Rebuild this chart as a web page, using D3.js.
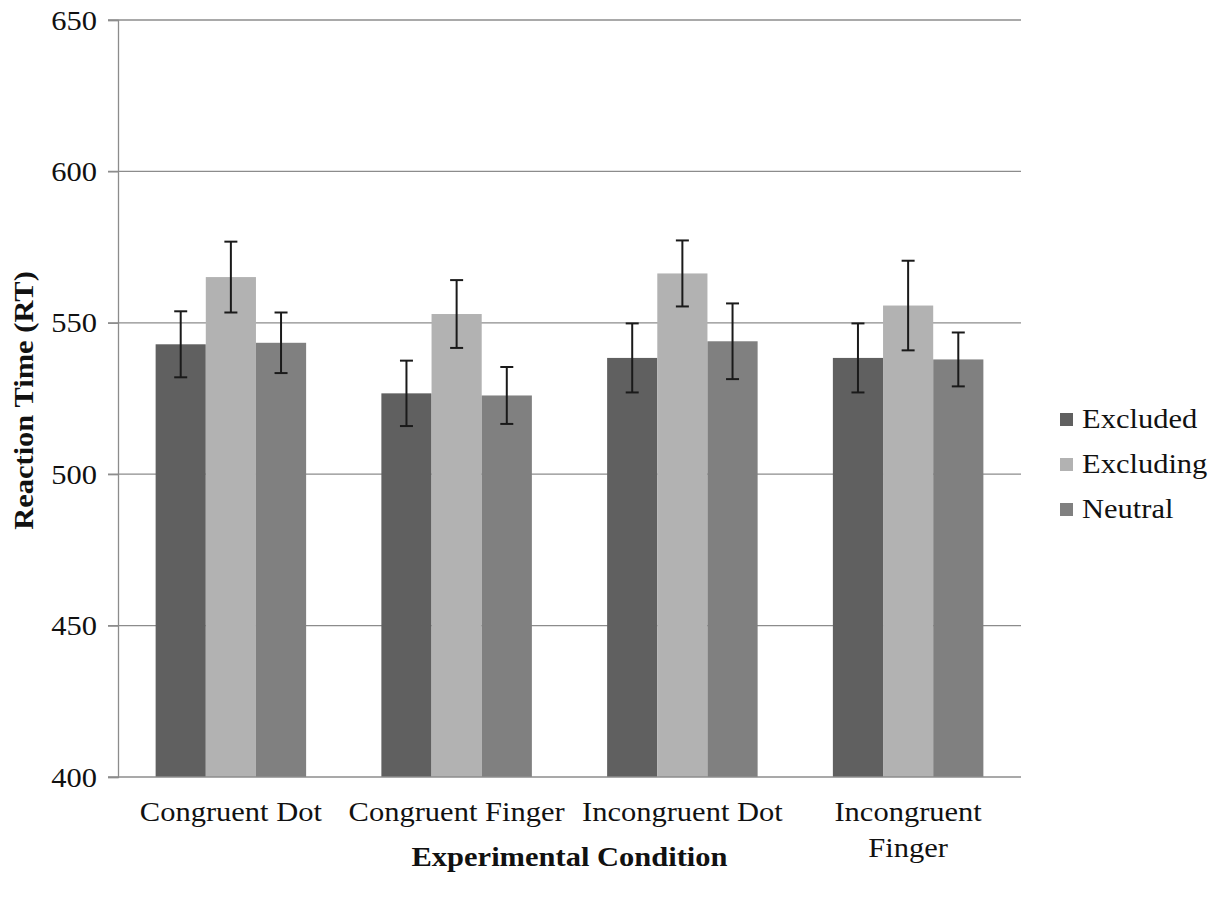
<!DOCTYPE html>
<html>
<head>
<meta charset="utf-8">
<script src="https://cdn.jsdelivr.net/npm/d3@7"></script>
<style>
  html, body { margin: 0; padding: 0; background: #fff; }
  svg { display: block; }
  text { font-family: "Liberation Serif", "Times New Roman", serif; fill: #111; }
</style>
</head>
<body>
<svg id="chart" width="1221" height="903"></svg>
<script>
const categories = ["Congruent Dot", "Congruent Finger", "Incongruent Dot", "Incongruent Finger"];
const seriesNames = ["Excluded", "Excluding", "Neutral"];
const excludedMeans  = [542.9, 526.7, 538.4, 538.4];
const excludingMeans = [565.1, 552.9, 566.3, 555.7];
const neutralMeans   = [543.4, 526.0, 543.9, 537.9];
const excludedErr  = [10.9, 10.8, 11.4, 11.4];
const excludingErr = [11.7, 11.2, 10.9, 14.8];
const neutralErr   = [10.0, 9.4, 12.5, 8.9];
const yTicks = [400, 450, 500, 550, 600, 650];
const colors = ["#606060", "#b2b2b2", "#808080"];

(function () {
const SX = 1.13;      // horizontal stretch of the glyphs in the original
const FS = 27;        // font size
const means = [excludedMeans, excludingMeans, neutralMeans];
const errs = [excludedErr, excludingErr, neutralErr];
const data = [];
categories.forEach((c, ci) => {
  seriesNames.forEach((s, si) => {
    data.push({cat: c, series: s, si, value: means[si][ci], err: errs[si][ci]});
  });
});

const svg = d3.select("#chart");
const mLeft = 118, mRight = 1021, mTop = 20, mBottom = 777;

const x0 = d3.scaleBand().domain(categories).range([mLeft, mRight]).paddingInner(1/3).paddingOuter(1/6);
const x1 = d3.scaleBand().domain(seriesNames).range([0, x0.bandwidth()]).padding(0);
const y = d3.scaleLinear().domain([400, 650]).range([mBottom, mTop]);

// gridlines
svg.append("g").selectAll("line").data(yTicks.filter(t => t !== 400)).join("line")
  .attr("x1", mLeft - 10).attr("x2", mRight)
  .attr("y1", d => y(d)).attr("y2", d => y(d))
  .attr("stroke", "#8c8c8c").attr("stroke-width", 1.3);

// bars
svg.append("g").selectAll("rect").data(data).join("rect")
  .attr("x", d => x0(d.cat) + x1(d.series))
  .attr("width", x1.bandwidth())
  .attr("y", d => y(d.value))
  .attr("height", d => y(400) - y(d.value))
  .attr("fill", d => colors[d.si]);

// y axis
const yAxis = d3.axisLeft(y).tickValues(yTicks).tickSize(10).tickPadding(10).tickFormat(d3.format("d"));
const ga = svg.append("g").attr("transform", `translate(${mLeft},0)`).call(yAxis);
ga.select(".domain").attr("stroke", "#8c8c8c").attr("stroke-width", 1.3);
ga.selectAll(".tick line").attr("stroke", "#8c8c8c").attr("stroke-width", 1.3);
ga.selectAll(".tick text")
  .attr("x", 0).attr("dy", null).attr("y", 9)
  .attr("transform", `translate(-21,0) scale(${SX},1)`)
  .style("font-family", "Liberation Serif").style("font-size", FS + "px").attr("fill", "#111");

// x axis baseline
const xAxis = d3.axisBottom(x0).tickSize(0).tickFormat("");
const gx = svg.append("g").attr("transform", `translate(0,${mBottom})`).call(xAxis);
gx.select(".domain").attr("stroke", "#8c8c8c").attr("stroke-width", 1.3).attr("d", `M${mLeft - 10},0H${mRight}`);

// x labels
const xLabelLines = {
  "Congruent Dot": ["Congruent Dot"],
  "Congruent Finger": ["Congruent Finger"],
  "Incongruent Dot": ["Incongruent Dot"],
  "Incongruent Finger": ["Incongruent", "Finger"]
};
const xl = svg.append("g").selectAll("text").data(categories).join("text")
  .attr("transform", d => `translate(${x0(d) + x0.bandwidth() / 2},821) scale(${SX},1)`)
  .attr("text-anchor", "middle")
  .style("font-size", FS + "px");
xl.each(function(d) {
  const lines = xLabelLines[d];
  d3.select(this).selectAll("tspan").data(lines).join("tspan")
    .attr("x", 0)
    .attr("dy", (l, i) => i === 0 ? 0 : 36)
    .text(l => l);
});

// error bars
const eb = svg.append("g").selectAll("g").data(data).join("g");
eb.append("line")
  .attr("x1", d => x0(d.cat) + x1(d.series) + x1.bandwidth() / 2)
  .attr("x2", d => x0(d.cat) + x1(d.series) + x1.bandwidth() / 2)
  .attr("y1", d => y(d.value + d.err)).attr("y2", d => y(d.value - d.err))
  .attr("stroke", "#1a1a1a").attr("stroke-width", 2);
[1, -1].forEach(sgn => {
  eb.append("line")
    .attr("x1", d => x0(d.cat) + x1(d.series) + x1.bandwidth() / 2 - 6.5)
    .attr("x2", d => x0(d.cat) + x1(d.series) + x1.bandwidth() / 2 + 6.5)
    .attr("y1", d => y(d.value + sgn * d.err)).attr("y2", d => y(d.value + sgn * d.err))
    .attr("stroke", "#1a1a1a").attr("stroke-width", 2);
});

// axis titles
svg.append("text")
  .attr("transform", `translate(33,${(mTop + mBottom) / 2 + 2}) rotate(-90) scale(${SX},1)`)
  .attr("text-anchor", "middle")
  .style("font-size", FS + "px").style("font-weight", "bold")
  .text("Reaction Time (RT)");
svg.append("text")
  .attr("transform", `translate(${(mLeft + mRight) / 2},866) scale(${SX},1)`)
  .attr("text-anchor", "middle")
  .style("font-size", FS + "px").style("font-weight", "bold")
  .text("Experimental Condition");

// legend
const legendY = [419, 464, 509];
const lg = svg.append("g").selectAll("g").data(seriesNames).join("g")
  .attr("transform", (d, i) => `translate(1060,${legendY[i]})`);
lg.append("rect").attr("x", 0).attr("y", -6).attr("width", 13).attr("height", 13)
  .attr("fill", (d, i) => colors[i]);
lg.append("text")
  .attr("transform", `translate(22,9) scale(${SX},1)`)
  .style("font-size", FS + "px").text(d => d);
})();
</script>
</body>
</html>
